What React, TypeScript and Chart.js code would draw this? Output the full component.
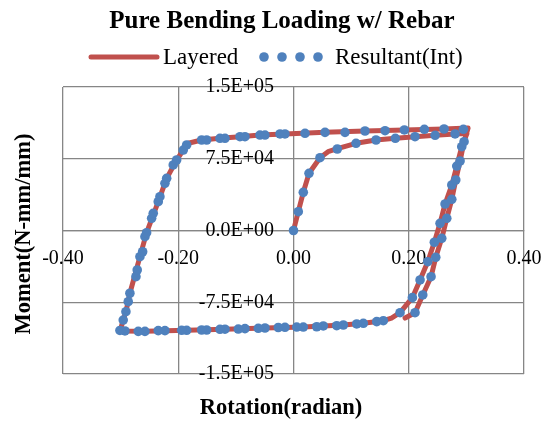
import React, { useEffect, useRef } from 'react';
import { Chart, registerables } from 'chart.js';

Chart.register(...registerables);

const TITLE = 'Pure Bending Loading w/ Rebar';
const X_TITLE = 'Rotation(radian)';
const Y_TITLE = 'Moment(N-mm/mm)';
const SERIES_NAMES = ['Layered', 'Resultant(Int)'];
const SERIES_COLORS = ['#C0504D', '#4F81BD'];
const X_TICKS = [-0.4, -0.2, 0, 0.2, 0.4];
const Y_TICKS = [-150000, -75000, 0, 75000, 150000];

// Layered (line)
const layeredX = [
  0, 0.0083, 0.017, 0.027, 0.046, 0.06, 0.076, 0.1085, 0.143, 0.177, 0.211, 0.246, 0.28, 0.301,
  0.292, 0.2833, 0.2747, 0.263, 0.2543, 0.2444, 0.233, 0.2196, 0.2063, 0.1849, 0.17, 0.156,
  0.1212, 0.0865, 0.0517, 0.017, -0.0495, -0.1189, -0.1854, -0.2578, -0.301,
  -0.2955, -0.2908, -0.2839, -0.2665, -0.2549, -0.2347, -0.2201, -0.2028, -0.1913, -0.1826,
  -0.1594, -0.1276, -0.0929, -0.0582, -0.0148, 0.0547, 0.1241, 0.1924, 0.2613, 0.303,
  0.296, 0.2891, 0.2816, 0.2747, 0.266, 0.2573, 0.2469, 0.2387, 0.2243, 0.2109, 0.1936,
];
const layeredY = [
  0, 19650, 39900, 59800, 76100, 82400, 85500, 91150, 94600, 96400, 98050, 99500, 100900, 101300,
  87600, 67400, 47550, 27700, 7500, -12300, -32600, -51700, -70200, -85900, -91500, -94300,
  -97000, -98800, -99800, -100900, -101900, -103200, -104300, -105400, -105000,
  -93600, -84900, -65600, -27400, -2300, 30100, 54500, 73700, 84100, 91150,
  94600, 96400, 98050, 99800, 100900, 102600, 104000, 105100, 106100, 107100,
  92800, 72650, 52800, 32600, 12750, -8150, -28000, -48300, -67400, -85900, -91500,
];

// Resultant(Int) (markers)
const resultantX = [
  0, 0.0083, 0.017, 0.0269, 0.046, 0.076, 0.1085, 0.1432, 0.1767, 0.2109, 0.2457, 0.2804,
  0.292, 0.2833, 0.2747, 0.263, 0.2543, 0.2444, 0.233, 0.2196, 0.2063, 0.1849,
  0.1559, 0.1444, 0.1212, 0.1097, 0.0865, 0.075, 0.0517, 0.0403, 0.017, 0.0056,
  -0.0148, -0.0264, -0.0495, -0.0611, -0.0842, -0.0958, -0.1189, -0.1276, -0.1507, -0.1594,
  -0.1854, -0.1941, -0.2231, -0.2347, -0.2578, -0.2694, -0.2925, -0.3012,
  -0.2955, -0.2908, -0.2868, -0.2839, -0.2734, -0.2712, -0.2665, -0.2618, -0.2578, -0.2549,
  -0.2462, -0.2434, -0.2347, -0.2318, -0.2231, -0.2201, -0.2087, -0.2028, -0.1913, -0.1854,
  -0.1594, -0.1507, -0.1276, -0.1189, -0.0929, -0.0842, -0.0582, -0.0495, -0.0234, -0.0148,
  0.02, 0.0547, 0.0894, 0.1241, 0.1589, 0.1924, 0.2271, 0.2613, 0.2948,
  0.296, 0.2891, 0.2816, 0.2747, 0.266, 0.2573, 0.2469, 0.2387, 0.2243, 0.2109,
];
const resultantY = [
  0, 19650, 39900, 59800, 76100, 85200, 91150, 94600, 96400, 98050, 99500, 100900,
  87600, 67400, 47550, 27700, 7500, -12300, -32600, -51700, -70200, -85900,
  -94300, -95300, -97000, -97700, -98800, -99500, -99800, -100600, -100900, -100900,
  -101200, -101400, -101900, -102200, -102600, -103000, -103200, -103300, -104000, -104000,
  -104300, -104300, -104700, -104700, -105400, -105400, -105000, -104500,
  -93600, -84900, -74400, -65600, -48300, -41300, -27400, -22200, -6500, -2300,
  12750, 18000, 30100, 35300, 49300, 54500, 68500, 73700, 84100, 89400,
  94600, 94600, 96400, 96400, 98050, 98050, 99800, 99800, 100900, 100900,
  101600, 102600, 102600, 104000, 104300, 105100, 105800, 106100, 105800,
  92800, 72650, 52800, 32600, 12750, -8150, -28000, -48300, -67400, -85900,
];

const FONT = '"Liberation Serif", "Times New Roman", serif';
const GRID = '#868686';
// where the y tick labels hang (x value just left of the vertical zero line)
const Y_LABEL_ANCHOR = -0.034;

const fmtY = (v: number) => {
  if (v === 0) return '0.0E+00';
  const sign = v < 0 ? '-' : '';
  const a = Math.abs(v);
  const e = Math.floor(Math.log10(a));
  const m = a / Math.pow(10, e);
  return sign + m.toFixed(1) + 'E' + (e >= 0 ? '+' : '-') + String(Math.abs(e)).padStart(2, '0');
};

const textPlugin = {
  id: 'outerTexts',
  afterDraw(chart: any) {
    const ctx = chart.ctx as CanvasRenderingContext2D;
    ctx.save();
    ctx.fillStyle = '#000';
    ctx.textBaseline = 'alphabetic';
    // Title
    ctx.font = `bold 25px ${FONT}`;
    ctx.textAlign = 'center';
    ctx.fillText(TITLE, 282, 28);
    // Legend
    const ly = 57;
    ctx.font = `23px ${FONT}`;
    ctx.textAlign = 'left';
    ctx.strokeStyle = SERIES_COLORS[0];
    ctx.lineWidth = 5;
    ctx.lineCap = 'round';
    ctx.beginPath();
    ctx.moveTo(91, ly);
    ctx.lineTo(157, ly);
    ctx.stroke();
    ctx.fillStyle = '#000';
    ctx.fillText(SERIES_NAMES[0], 163, 64);
    ctx.fillStyle = SERIES_COLORS[1];
    [264, 282, 300, 318].forEach((x) => {
      ctx.beginPath();
      ctx.arc(x, ly, 4.8, 0, Math.PI * 2);
      ctx.fill();
    });
    ctx.fillStyle = '#000';
    ctx.fillText(SERIES_NAMES[1], 335, 64);
    // Axis titles
    ctx.font = `bold 22.5px ${FONT}`;
    ctx.textAlign = 'center';
    ctx.fillText(X_TITLE, 281, 414);
    ctx.translate(30, 234);
    ctx.rotate(-Math.PI / 2);
    ctx.fillText(Y_TITLE, 0, 0);
    ctx.restore();
  },
};

export default function App() {
  const ref = useRef<HTMLCanvasElement | null>(null);
  useEffect(() => {
    if (!ref.current) return;
    const layered = layeredX.map((x, i) => ({ x, y: layeredY[i] }));
    const resultant = resultantX.map((x, i) => ({ x, y: resultantY[i] }));
    const chart = new Chart(ref.current, {
      type: 'scatter',
      data: {
        datasets: [
          {
            label: SERIES_NAMES[1],
            data: resultant,
            showLine: false,
            pointRadius: 4.8,
            pointBackgroundColor: SERIES_COLORS[1],
            pointBorderWidth: 0,
            pointBorderColor: SERIES_COLORS[1],
          },
          {
            label: SERIES_NAMES[0],
            data: layered,
            showLine: true,
            borderColor: SERIES_COLORS[0],
            borderWidth: 5,
            borderJoinStyle: 'round',
            borderCapStyle: 'round',
            pointRadius: 0,
            tension: 0,
          },
        ],
      },
      options: {
        animation: false,
        responsive: false,
        devicePixelRatio: 1,
        layout: { padding: { left: 63, right: 22, top: 87, bottom: 49 } },
        plugins: {
          legend: { display: false },
          title: { display: false },
          tooltip: { enabled: false },
        },
        scales: {
          x: {
            type: 'linear',
            position: { y: 0 },
            min: -0.4,
            max: 0.4,
            afterBuildTicks: (s: any) => {
              s.ticks = X_TICKS.map((v) => ({ value: v }));
            },
            afterFit: (s: any) => {
              s.paddingLeft = 0;
              s.paddingRight = 0;
            },
            ticks: {
              callback: (v: any) => Number(v).toFixed(2),
              font: { family: FONT, size: 20 },
              color: '#000',
              padding: 16,
              maxRotation: 0,
              autoSkip: false,
            },
            grid: { color: GRID, lineWidth: 1.3, drawTicks: false },
            border: { color: GRID, width: 1.3 },
          },
          y: {
            type: 'linear',
            position: { x: Y_LABEL_ANCHOR },
            min: -150000,
            max: 150000,
            afterBuildTicks: (s: any) => {
              s.ticks = Y_TICKS.map((v) => ({ value: v }));
            },
            afterFit: (s: any) => {
              s.paddingTop = 0;
              s.paddingBottom = 0;
            },
            ticks: {
              callback: (v: any) => fmtY(Number(v)),
              font: { family: FONT, size: 20 },
              color: '#000',
              padding: 0,
              autoSkip: false,
            },
            grid: { color: GRID, lineWidth: 1.3, drawTicks: false },
            border: { display: false },
          },
        },
      },
      plugins: [textPlugin],
    });
    return () => chart.destroy();
  }, []);
  return (
    <div style={{ position: 'absolute', left: 0, top: 0, width: 546, height: 423, background: '#fff' }}>
      <canvas ref={ref} width={546} height={423} style={{ display: 'block' }} />
    </div>
  );
}
